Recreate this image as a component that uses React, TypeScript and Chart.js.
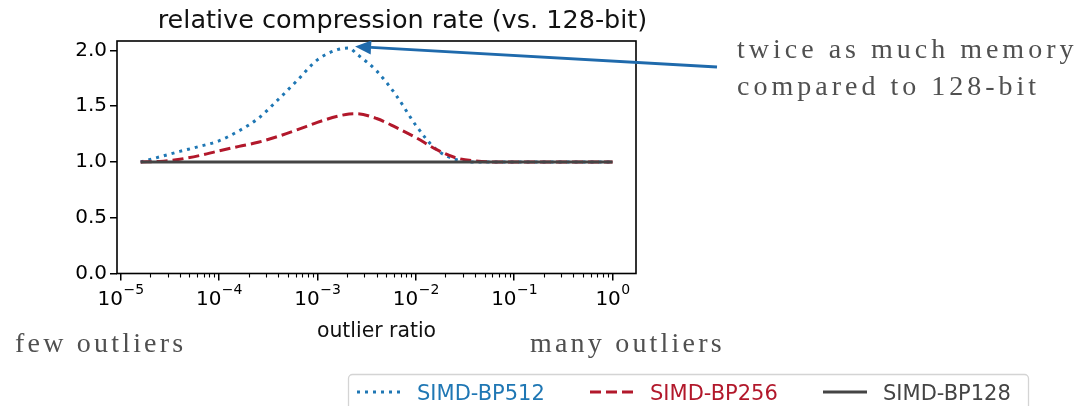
import { useEffect, useRef } from "react";
import { Chart, registerables } from "chart.js";

Chart.register(...registerables);

// Outlier ratio (x) and relative compression rate of each variant (y)
const outlierRatio = [
  1.6e-5, 2.5e-5, 4e-5, 6.3e-5, 1e-4, 1.6e-4, 2.5e-4, 4e-4, 6.3e-4, 1e-3,
  1.6e-3, 2.1e-3, 2.5e-3, 4e-3, 6.3e-3, 1e-2, 1.6e-2, 2.5e-2, 4e-2, 6.3e-2,
  0.1, 0.16, 0.25, 0.4, 0.63, 1.0,
];
const simdBP512 = [
  1.0, 1.046, 1.095, 1.139, 1.19, 1.28, 1.39, 1.56, 1.735, 1.916,
  2.007, 2.022, 1.97, 1.817, 1.6, 1.33, 1.115, 1.025, 1.0, 1.0,
  1.0, 1.0, 1.0, 1.0, 1.0, 1.0,
];
const simdBP256 = [
  1.0, 1.005, 1.025, 1.057, 1.1, 1.14, 1.177, 1.23, 1.29, 1.355,
  1.41, 1.43, 1.432, 1.39, 1.31, 1.22, 1.115, 1.04, 1.01, 1.0,
  1.0, 1.0, 1.0, 1.0, 1.0, 1.0,
];
const simdBP128 = [
  1.0, 1.0, 1.0, 1.0, 1.0, 1.0, 1.0, 1.0, 1.0, 1.0,
  1.0, 1.0, 1.0, 1.0, 1.0, 1.0, 1.0, 1.0, 1.0, 1.0,
  1.0, 1.0, 1.0, 1.0, 1.0, 1.0,
];

const seriesLabels = ["SIMD-BP512", "SIMD-BP256", "SIMD-BP128"];
const seriesColors = ["#1f77b4", "#b2182b", "#444444"];

const yTicks = [0, 0.5, 1.0, 1.5, 2.0];
const xTicks = [1e-5, 1e-4, 1e-3, 1e-2, 1e-1, 1];
const xTickBase = "10";
const xTickExponents = ["−5", "−4", "−3", "−2", "−1", "0"];
const minorMultipliers = [2, 3, 4, 5, 6, 7, 8, 9];

const titleText = "relative compression rate (vs. 128-bit)";
const xAxisTitle = "outlier ratio";
const noteLines = ["twice as much memory", "compared to 128-bit"];
const leftNote = "few outliers";
const rightNote = "many outliers";

const SANS = "'DejaVu Sans', sans-serif";
const SERIF = "'Liberation Serif', 'Times New Roman', serif";

const points = (ys: number[]) => ys.map((y, i) => ({ x: outlierRatio[i], y }));

const decorPlugin = {
  id: "decor",
  afterDraw(chart: any) {
    const { ctx, chartArea: a, scales } = chart;
    const xs = scales.x;
    const ys = scales.y;
    ctx.save();

    // axes frame
    ctx.strokeStyle = "#000";
    ctx.lineWidth = 1.6;
    ctx.strokeRect(a.left, a.top, a.right - a.left, a.bottom - a.top);

    // minor ticks of the log axis
    ctx.lineWidth = 1.1;
    ctx.beginPath();
    xTicks.forEach((d) => {
      minorMultipliers.forEach((m) => {
        const v = d * m;
        if (v < xs.min || v > xs.max) return;
        const px = Math.round(xs.getPixelForValue(v)) + 0.5;
        ctx.moveTo(px, a.bottom);
        ctx.lineTo(px, a.bottom + 4);
      });
    });
    ctx.stroke();

    // power-of-ten tick labels with raised exponents
    ctx.fillStyle = "#000";
    ctx.textAlign = "left";
    ctx.textBaseline = "alphabetic";
    xTicks.forEach((v, i) => {
      const px = xs.getPixelForValue(v);
      ctx.font = `20px ${SANS}`;
      const wb = ctx.measureText(xTickBase).width;
      ctx.font = `14px ${SANS}`;
      const we = ctx.measureText(xTickExponents[i]).width;
      const x0 = px - (wb + we) / 2;
      ctx.font = `20px ${SANS}`;
      ctx.fillText(xTickBase, x0, 305);
      ctx.font = `14px ${SANS}`;
      ctx.fillText(xTickExponents[i], x0 + wb + 0.5, 294);
    });

    // title and axis label
    ctx.fillStyle = "#111";
    ctx.textAlign = "center";
    ctx.font = `25.5px ${SANS}`;
    ctx.fillText(titleText, 402.5, 28);
    ctx.font = `20.4px ${SANS}`;
    ctx.fillText(xAxisTitle, (a.left + a.right) / 2, 337);

    // serif side notes
    ctx.fillStyle = "#505050";
    ctx.textAlign = "left";
    ctx.font = `28px ${SERIF}`;
    (ctx as any).letterSpacing = "4px";
    ctx.fillText(noteLines[0], 737, 58);
    ctx.fillText(noteLines[1], 737, 95);
    (ctx as any).letterSpacing = "3.2px";
    ctx.fillText(leftNote, 15, 352);
    ctx.fillText(rightNote, 530, 352);
    (ctx as any).letterSpacing = "0px";

    // arrow pointing at the SIMD-BP512 peak
    let peak = 0;
    simdBP512.forEach((v, i) => {
      if (v > simdBP512[peak]) peak = i;
    });
    const tipX = xs.getPixelForValue(outlierRatio[peak]) + 6;
    const tipY = ys.getPixelForValue(simdBP512[peak]) - 1.5;
    const tailX = 717;
    const tailY = 67;
    const dx = tipX - tailX;
    const dy = tipY - tailY;
    const len = Math.hypot(dx, dy);
    const ux = dx / len;
    const uy = dy / len;
    const headLen = 16;
    const headHalf = 7;
    const baseX = tipX - ux * headLen;
    const baseY = tipY - uy * headLen;
    ctx.strokeStyle = "#1f6aac";
    ctx.fillStyle = "#1f6aac";
    ctx.lineWidth = 2.8;
    ctx.setLineDash([]);
    ctx.beginPath();
    ctx.moveTo(tailX, tailY);
    ctx.lineTo(baseX, baseY);
    ctx.stroke();
    ctx.beginPath();
    ctx.moveTo(tipX, tipY);
    ctx.lineTo(baseX - uy * headHalf, baseY + ux * headHalf);
    ctx.lineTo(baseX + uy * headHalf, baseY - ux * headHalf);
    ctx.closePath();
    ctx.fill();

    // legend
    const lx = 348;
    const ly = 374;
    const lw = 680;
    const lh = 50;
    ctx.fillStyle = "#ffffff";
    ctx.strokeStyle = "#d4d4d4";
    ctx.lineWidth = 1.3;
    ctx.beginPath();
    (ctx as any).roundRect(lx + 0.5, ly + 0.5, lw, lh, 4);
    ctx.fill();
    ctx.stroke();
    ctx.font = `21px ${SANS}`;
    ctx.textAlign = "left";
    chart.data.datasets.forEach((ds: any, i: number) => {
      const x0 = 357 + i * 233;
      ctx.strokeStyle = ds.borderColor;
      ctx.lineWidth = ds.borderWidth;
      ctx.lineCap = "butt";
      ctx.setLineDash(ds.borderDash || []);
      ctx.beginPath();
      ctx.moveTo(x0, 392);
      ctx.lineTo(x0 + 44, 392);
      ctx.stroke();
      ctx.setLineDash([]);
      ctx.fillStyle = ds.borderColor;
      ctx.fillText(ds.label, x0 + 60, 400);
    });

    ctx.restore();
  },
};

export default function App() {
  const canvasRef = useRef<HTMLCanvasElement | null>(null);

  useEffect(() => {
    document.body.style.margin = "0";
    document.body.style.background = "#ffffff";
    const canvas = canvasRef.current;
    if (!canvas) return;

    const tickFont = { family: SANS, size: 20 };
    const grid = {
      drawOnChartArea: false,
      drawTicks: true,
      tickLength: 7,
      tickColor: "#000",
      tickWidth: 1.5,
      color: "#000",
      lineWidth: 1.5,
    };

    const chart = new Chart(canvas, {
      type: "line",
      data: {
        datasets: [
          {
            label: seriesLabels[0],
            data: points(simdBP512),
            borderColor: seriesColors[0],
            borderWidth: 3,
            borderDash: [3, 5],
            borderCapStyle: "butt",
            pointRadius: 0,
            cubicInterpolationMode: "monotone",
            fill: false,
            order: 2,
          },
          {
            label: seriesLabels[1],
            data: points(simdBP256),
            borderColor: seriesColors[1],
            borderWidth: 3,
            borderDash: [11, 5],
            borderCapStyle: "butt",
            pointRadius: 0,
            cubicInterpolationMode: "monotone",
            fill: false,
            order: 1,
          },
          {
            label: seriesLabels[2],
            data: points(simdBP128),
            borderColor: seriesColors[2],
            borderWidth: 3,
            pointRadius: 0,
            fill: false,
            order: 0,
          },
        ],
      },
      options: {
        responsive: false,
        maintainAspectRatio: false,
        animation: false,
        devicePixelRatio: 1,
        layout: { padding: { left: 57, right: 449, top: 41, bottom: 82.5 } },
        plugins: {
          legend: { display: false },
          title: { display: false },
          tooltip: { enabled: false },
        },
        scales: {
          x: {
            type: "logarithmic",
            min: 9.2e-6,
            max: 1.73,
            border: { display: false },
            grid,
            afterBuildTicks: (scale: any) => {
              scale.ticks = xTicks.map((v) => ({ value: v, major: true }));
            },
            afterFit: (scale: any) => {
              scale.height = 50;
            },
            ticks: {
              display: false,
              autoSkip: false,
              maxRotation: 0,
              minRotation: 0,
            },
          },
          y: {
            type: "linear",
            min: 0,
            max: 2.085,
            border: { display: false },
            grid,
            afterBuildTicks: (scale: any) => {
              scale.ticks = yTicks.map((v) => ({ value: v }));
            },
            afterFit: (scale: any) => {
              scale.width = 60;
            },
            ticks: {
              includeBounds: false,
              padding: 3,
              color: "#000",
              font: tickFont,
              callback: (value: any) => Number(value).toFixed(1),
            },
          },
        },
      } as any,
      plugins: [decorPlugin],
    });

    return () => chart.destroy();
  }, []);

  return (
    <div style={{ width: 1085, height: 406, position: "relative", background: "#fff" }}>
      <canvas ref={canvasRef} width={1085} height={406} style={{ display: "block" }} />
    </div>
  );
}
